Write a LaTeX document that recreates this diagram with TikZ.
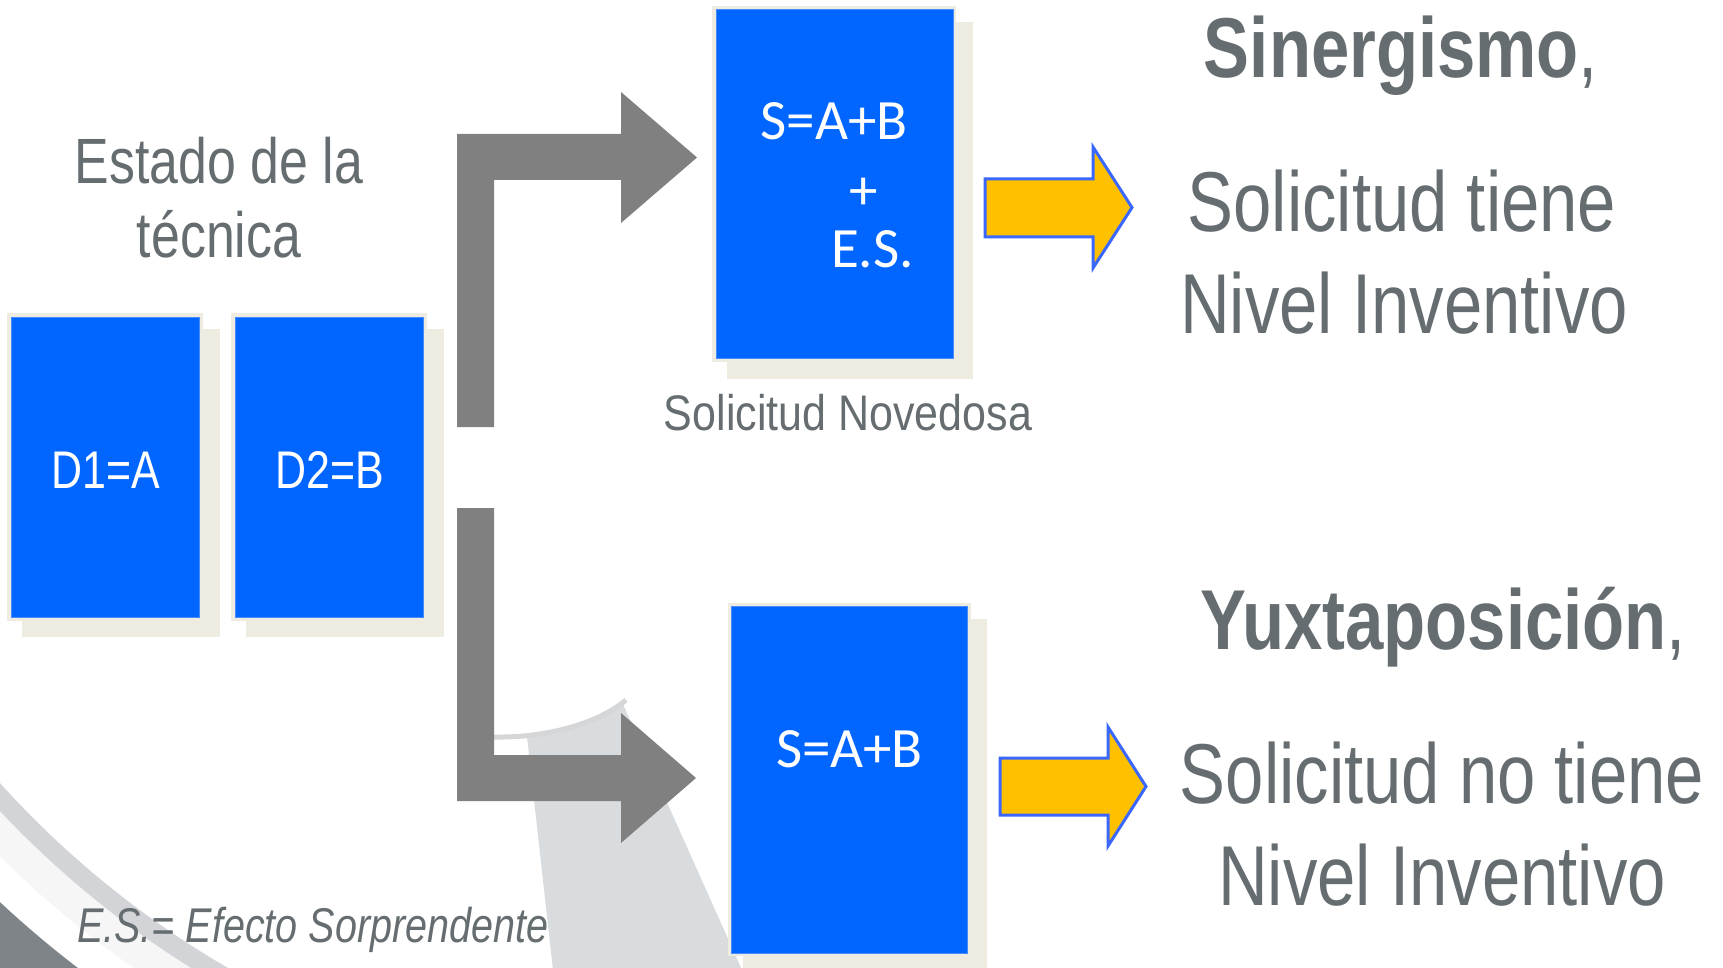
\documentclass[tikz,border=0pt]{standalone}
\usepackage{fontspec}
\setmainfont{Liberation Sans}
\newfontfamily\nf[FakeStretch=0.81]{Liberation Sans}
\newfontfamily\nfw[FakeStretch=0.86]{Liberation Sans}
\newfontfamily\bxf{Carlito}
\definecolor{boxblue}{RGB}{0,102,255}
\definecolor{boxedge}{RGB}{70,140,255}
\definecolor{beige}{RGB}{238,236,225}
\definecolor{arrgray}{RGB}{128,128,128}
\definecolor{txtgray}{RGB}{102,109,113}
\definecolor{ylw}{RGB}{255,192,0}
\definecolor{ylwedge}{RGB}{58,104,255}
\definecolor{bandgray}{RGB}{217,220,223}
\definecolor{arcgray}{RGB}{210,212,215}
\definecolor{halogray}{RGB}{246,246,247}
\definecolor{darkgray2}{RGB}{126,132,136}
\definecolor{rimgray}{RGB}{212,214,216}
\tikzset{
  bluebox/.style={rectangle, fill=boxblue, draw=boxedge, line width=1pt, inner sep=0pt, outer sep=0pt},
  framec/.style={fill=beige},
  bigtxt/.style={text=txtgray, inner sep=0pt, outer sep=0pt, anchor=base, font=\nf\fontsize{85}{85}\selectfont},
  midtxt/.style={text=txtgray, inner sep=0pt, outer sep=0pt, anchor=base, font=\nf\fontsize{64}{64}\selectfont},
  captxt/.style={text=txtgray, inner sep=0pt, outer sep=0pt, anchor=base, font=\nfw\fontsize{50}{50}\selectfont},
  notetxt/.style={text=txtgray, inner sep=0pt, outer sep=0pt, anchor=base west, font=\nf\itshape\fontsize{48.8}{48.8}\selectfont},
  dtxt/.style={text=white, inner sep=0pt, outer sep=0pt, anchor=base, font=\nf\fontsize{53}{53}\selectfont},
  stxt/.style={text=white, inner sep=0pt, outer sep=0pt, anchor=base, font=\bxf\fontsize{57}{57}\selectfont},
  grayarrow/.style={fill=arrgray},
  yarrow/.style={fill=ylw, draw=ylwedge, line width=3pt, line join=miter}
}
\begin{document}
\begin{tikzpicture}[x=1pt,y=-1pt]
\useasboundingbox (0,0) rectangle (1723,968);
\fill[white] (0,0) rectangle (1723,968);

% background decoration
\begin{scope}
  \clip (0,600) rectangle (420,968);
  \fill[darkgray2, even odd rule] (700,152) circle[radius=1026] (700,152) circle[radius=1500];
  \draw[halogray, line width=36pt] (700,152) circle[radius=975];
  \draw[arcgray, line width=19pt] (700,152) circle[radius=952];
\end{scope}
\begin{scope}
  \clip (0,0) rectangle (1723,968);
  \fill[bandgray] (527,737) -- (553,970) -- (742,970) -- (622,702)
     .. controls (595,722) and (560,735) .. cycle;
  \draw[rimgray, line width=5pt] (494,737) .. controls (550,738) and (600,722) .. (626,700);
\end{scope}

% left boxes
\fill[framec] (22,329) rectangle (220,637);
\fill[framec] (7,313) rectangle (203,621);
\node[bluebox, minimum width=188pt, minimum height=300pt] (d1) at (105,467) {};
\fill[framec] (246,329) rectangle (444,637);
\fill[framec] (231,313) rectangle (427,621);
\node[bluebox, minimum width=188pt, minimum height=300pt] (d2) at (329,467) {};
\node[dtxt] (d1t) at (106,488) {D1=A};
\node[dtxt] (d2t) at (330,488) {D2=B};

% top box
\fill[framec] (727,22) rectangle (973,379);
\fill[framec] (712,6) rectangle (956,362);
\node[bluebox, minimum width=237pt, minimum height=348pt] (top) at (834.5,184) {};
\node[stxt] (topt) at (834,140) {S=A+B};
\node[stxt, anchor=center] (plus) at (864,194) {+};
\node[stxt, anchor=base west] (es) at (831,268) {E.S.};

% bottom box
\fill[framec] (743,619) rectangle (987,972);
\fill[framec] (728,603) rectangle (971,956);
\node[bluebox, minimum width=236pt, minimum height=347pt] (bot) at (849,779.5) {};
\node[stxt] (bott) at (849.5,767) {S=A+B};

% gray bent arrows
\fill[grayarrow] (457,427) -- (457,134) -- (621,134) -- (621,92) -- (697,157.5)
  -- (621,223) -- (621,180) -- (494,180) -- (494,427) -- cycle;
\fill[grayarrow] (457,508) -- (494,508) -- (494,755) -- (621,755) -- (621,713)
  -- (696,778) -- (621,843) -- (621,801) -- (457,801) -- cycle;

% yellow arrows
\draw[yarrow] (985,179) -- (1093,179) -- (1093,147) -- (1132,207.5) -- (1093,268)
  -- (1093,237) -- (985,237) -- cycle;
\draw[yarrow] (1000,758) -- (1108,758) -- (1108,727) -- (1146,786.5) -- (1108,846)
  -- (1108,815) -- (1000,815) -- cycle;

% texts
\node[midtxt] (est1) at (219,184) {Estado de la};
\node[midtxt] (est2) at (219,258) {técnica};
\node[captxt] (nov) at (848,430) {Solicitud Novedosa};
\node[notetxt] (note) at (77,942) {E.S.= Efecto Sorprendente};

\node[bigtxt] (sin) at (1401,78) {{\bfseries Sinergismo},};
\node[bigtxt] (sin2) at (1402,232) {Solicitud tiene};
\node[bigtxt] (sin3) at (1404,333) {Nivel Inventivo};
\node[bigtxt] (yux) at (1443,649) {{\bfseries Yuxtaposición},};
\node[bigtxt] (yux2) at (1442,803) {Solicitud no tiene};
\node[bigtxt] (yux3) at (1442,905) {Nivel Inventivo};
\end{tikzpicture}
\end{document}
